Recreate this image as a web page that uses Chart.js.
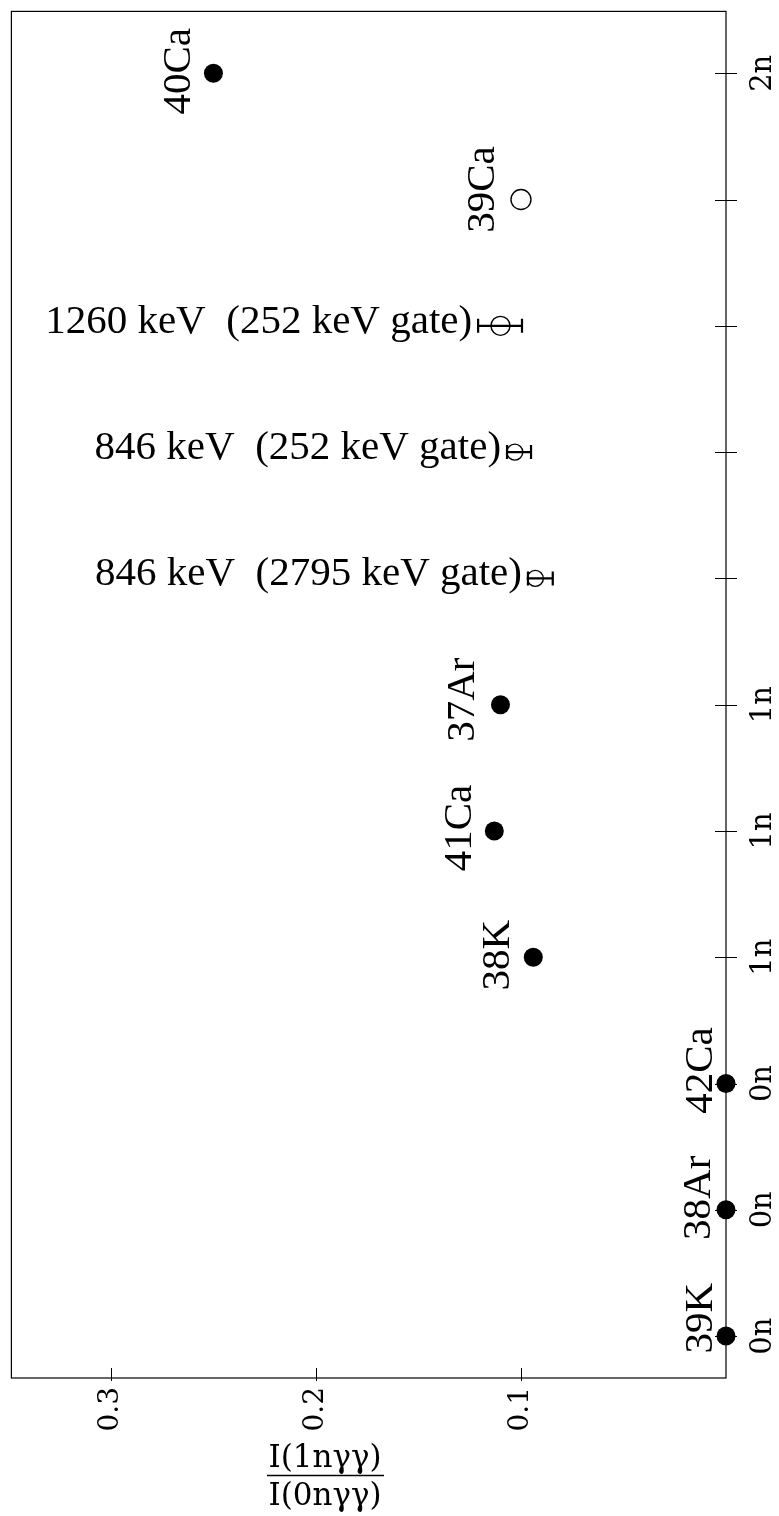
<!DOCTYPE html>
<html>
<head>
<meta charset="utf-8">
<script src="https://cdn.jsdelivr.net/npm/chart.js@4.4.0/dist/chart.umd.min.js"></script>
<style>
html,body{margin:0;padding:0;background:#fff;}
#wrap{width:779px;height:1516px;position:relative;}
</style>
</head>
<body>
<div id="wrap"><canvas id="c" width="779" height="1516"></canvas></div>
<script>
// ---- data ----
const rowTickLabels = ['2n', '', '', '', '', '1n', '1n', '1n', '0n', '0n', '0n'];
const xTickValues = [0.1, 0.2, 0.3];
const xTickLabels = ['0.1', '0.2', '0.3'];

const nucleusNames = ['40Ca', '39Ca', '37Ar', '41Ca', '38K', '42Ca', '38Ar', '39K'];
const nucleusRows  = [0, 1, 5, 6, 7, 8, 9, 10];
const nucleusRatio = [0.250, 0.100, 0.110, 0.113, 0.094, 0, 0, 0];
const nucleusOpen  = [false, true, false, false, false, false, false, false];

const gateNames   = ['1260 keV  (252 keV gate)', '846 keV  (252 keV gate)', '846 keV  (2795 keV gate)'];
const gateRows    = [2, 3, 4];
const gateRatio   = [0.110, 0.103, 0.093];
const gateErrLow  = [0.0995, 0.0951, 0.0845];
const gateErrHigh = [0.1209, 0.1068, 0.0966];

const titleNumerator = 'I(1nγγ)';
const titleDenominator = 'I(0nγγ)';

// ---- layout / style (not data) ----
const nucleusLabelShift = [[-23, -2], [-27, -10], [-26, -5], [-23, -3], [-24, -2], [-14, -13], [-16, -12], [-14, -18]];
const labelFont = '41px "Liberation Serif", "Times New Roman", serif';
const axisFontFamily = '"DejaVu Serif", serif';

const filledPts = [], openPts = [];
nucleusNames.forEach((n, i) => {
  const p = {x: nucleusRatio[i], y: nucleusRows[i]};
  (nucleusOpen[i] ? openPts : filledPts).push(p);
});
const gatePts = gateRows.map((r, i) => ({x: gateRatio[i], y: r}));

const decor = {
  id: 'decor',
  beforeDatasetsDraw(chart) {
    const {ctx, chartArea: a, scales: {x, y}} = chart;
    ctx.save();
    ctx.strokeStyle = '#000';
    ctx.lineWidth = 1.2;
    ctx.strokeRect(a.left, a.top, a.right - a.left, a.bottom - a.top);
    ctx.lineWidth = 1;
    rowTickLabels.forEach((_, i) => {
      const py = Math.round(y.getPixelForValue(i)) + 0.5;
      ctx.beginPath(); ctx.moveTo(a.right - 11, py); ctx.lineTo(a.right + 11, py); ctx.stroke();
    });
    xTickValues.forEach(v => {
      const px = Math.round(x.getPixelForValue(v)) + 0.5;
      ctx.beginPath(); ctx.moveTo(px, a.bottom - 10); ctx.lineTo(px, a.bottom + 3); ctx.stroke();
    });
    // error bars
    ctx.lineWidth = 2.2;
    gateRows.forEach((r, i) => {
      const py = y.getPixelForValue(r);
      const x1 = x.getPixelForValue(gateErrHigh[i]);
      const x2 = x.getPixelForValue(gateErrLow[i]);
      ctx.beginPath();
      ctx.moveTo(x1, py); ctx.lineTo(x2, py);
      ctx.moveTo(x1, py - 7); ctx.lineTo(x1, py + 7);
      ctx.moveTo(x2, py - 7); ctx.lineTo(x2, py + 7);
      ctx.stroke();
    });
    ctx.restore();
  },
  afterDatasetsDraw(chart) {
    const {ctx, scales: {x, y}} = chart;
    ctx.save();
    ctx.fillStyle = '#000';
    ctx.strokeStyle = '#000';
    ctx.font = labelFont;
    // nucleus labels, rotated
    nucleusNames.forEach((n, i) => {
      const px = x.getPixelForValue(nucleusRatio[i]) + nucleusLabelShift[i][0];
      const py = y.getPixelForValue(nucleusRows[i]) + nucleusLabelShift[i][1];
      ctx.save();
      ctx.translate(px, py);
      ctx.rotate(-Math.PI / 2);
      ctx.textAlign = 'center';
      ctx.textBaseline = 'alphabetic';
      ctx.fillText(n, 0, 0);
      ctx.restore();
    });
    // gate labels
    ctx.textAlign = 'right';
    ctx.textBaseline = 'alphabetic';
    gateNames.forEach((g, i) => {
      const px = x.getPixelForValue(gateErrHigh[i]) - 6;
      const py = y.getPixelForValue(gateRows[i]) + 7;
      ctx.fillText(g, px, py);
    });
    // fraction title
    ctx.font = '31px ' + axisFontFamily;
    ctx.textAlign = 'center';
    const cx = 325;
    ctx.fillText(titleNumerator, cx, 1467);
    ctx.fillText(titleDenominator, cx, 1505);
    ctx.lineWidth = 1.4;
    ctx.beginPath(); ctx.moveTo(267, 1475.5); ctx.lineTo(384, 1475.5); ctx.stroke();
    ctx.restore();
  }
};

const chart = new Chart(document.getElementById('c'), {
  type: 'scatter',
  data: {
    datasets: [
      {data: filledPts, pointRadius: 9.5, pointBackgroundColor: '#000', pointBorderWidth: 0, borderWidth: 0, clip: false},
      {data: openPts, pointRadius: 10, pointBackgroundColor: 'rgba(0,0,0,0)', pointBorderColor: '#000', pointBorderWidth: 1.4, clip: false},
      {data: gatePts, pointRadius: [9.5, 8, 8], pointBackgroundColor: 'rgba(0,0,0,0)', pointBorderColor: '#000', pointBorderWidth: 1.4, clip: false}
    ]
  },
  options: {
    responsive: false,
    animation: false,
    devicePixelRatio: 1,
    layout: {padding: {left: 8, top: 8, right: 0, bottom: 0}},
    plugins: {legend: {display: false}, tooltip: {enabled: false}},
    scales: {
      x: {
        type: 'linear', reverse: true, min: 0, max: 0.34854, position: 'bottom',
        afterBuildTicks: s => { s.ticks = xTickValues.map(v => ({value: v})); },
        afterFit: s => { s.height = 138; s.paddingLeft = 0; s.paddingRight = 0; s.paddingTop = 0; s.paddingBottom = 0; },
        grid: {display: false, drawTicks: false},
        border: {display: false},
        ticks: {
          minRotation: 90, maxRotation: 90, padding: 9, autoSkip: false,
          font: {family: axisFontFamily, size: 28}, color: '#000',
          callback: (v, i) => xTickLabels[i]
        }
      },
      y: {
        type: 'linear', reverse: true, min: -0.49, max: 10.332, position: 'right',
        afterBuildTicks: s => { s.ticks = rowTickLabels.map((_, i) => ({value: i})); },
        afterFit: s => { s.width = 53; s.paddingLeft = 0; s.paddingRight = 0; s.paddingTop = 0; s.paddingBottom = 0; },
        grid: {display: false, drawTicks: false},
        border: {display: false},
        ticks: {
          minRotation: 90, maxRotation: 90, padding: 19, crossAlign: 'center', autoSkip: false,
          font: {family: axisFontFamily, size: 29}, color: '#000',
          callback: (v, i) => rowTickLabels[i]
        }
      }
    }
  },
  plugins: [decor]
});
</script>
</body>
</html>
